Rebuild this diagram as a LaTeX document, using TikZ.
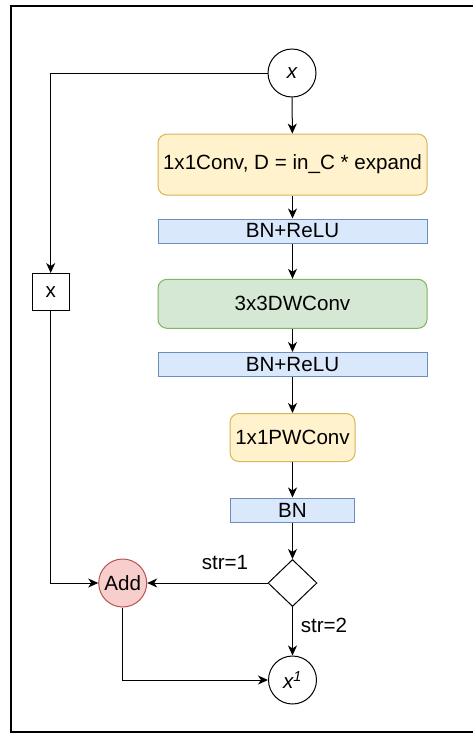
\documentclass[tikz,border=0pt]{standalone}
\usepackage{fontspec}
\setmainfont{Liberation Sans}
\usetikzlibrary{arrows.meta,shapes.geometric}
\definecolor{ylwfill}{HTML}{FFF2CC}\definecolor{ylwline}{HTML}{D6B656}
\definecolor{blufill}{HTML}{DAE8FC}\definecolor{bluline}{HTML}{6C8EBF}
\definecolor{grnfill}{HTML}{D5E8D4}\definecolor{grnline}{HTML}{82B366}
\definecolor{redfill}{HTML}{F8CECC}\definecolor{redline}{HTML}{B85450}
\begin{document}
\begin{tikzpicture}[x=1pt,y=-1pt,
  every node/.style={font=\fontsize{20.6}{24}\selectfont, inner sep=0pt},
  conv/.style={draw=ylwline, fill=ylwfill, rounded corners=9pt, line width=1pt},
  dwconv/.style={draw=grnline, fill=grnfill, rounded corners=9pt, line width=1pt},
  norm/.style={draw=bluline, fill=blufill, line width=1pt},
  term/.style={circle, draw, line width=1pt, minimum size=48pt},
  flow/.style={line width=1pt, -{Stealth[length=10pt,width=9pt,inset=3pt]}},
  plain/.style={line width=1pt}]
\useasboundingbox (0,0) rectangle (473,734);
% outer frame
\draw[line width=2pt] (11,6) rectangle (478,732);

% main column
\node[term] (xin) at (292,73) {\itshape x};
\node[conv, minimum width=269pt, minimum height=61pt] (c1) at (292.5,164.6) {1x1Conv, D = in\_C * expand};
\node[norm, minimum width=269pt, minimum height=24pt] (bn1) at (292.5,231) {BN+ReLU};
\node[dwconv, minimum width=269pt, minimum height=49pt] (dw) at (292.5,303.8) {3x3DWConv};
\node[norm, minimum width=269pt, minimum height=24pt] (bn2) at (292.5,364.5) {BN+ReLU};
\node[conv, minimum width=125pt, minimum height=48pt] (pw) at (292.5,437.5) {1x1PWConv};
\node[norm, minimum width=124pt, minimum height=24pt] (bn3) at (292.5,510) {BN};
\node[diamond, draw, line width=1pt, minimum width=49pt, minimum height=47pt] (dec) at (292.5,583) {};
\node[term] (xout) at (292.5,680) {\itshape x\textsuperscript{1}};

% shortcut branch
\node[draw, line width=1pt, minimum width=37pt, minimum height=37pt] (xbox) at (50.7,292) {x};
\node[term, draw=redline, fill=redfill] (add) at (122.7,583) {Add};

% labels
\node (l1) at (225,563) {str=1};
\node (l2) at (324,625) {str=2};

% connectors
\draw[flow] (xin) -- (c1);
\draw[flow] (c1) -- (bn1);
\draw[flow] (bn1) -- (dw);
\draw[flow] (dw) -- (bn2);
\draw[flow] (bn2) -- (pw);
\draw[flow] (pw) -- (bn3);
\draw[flow] (bn3) -- (dec);
\draw[flow] (dec) -- (add);
\draw[flow] (dec) -- (xout);
\draw[flow] (xin.west) -| (xbox.north);
\draw[flow] (xbox.south) |- (add.west);
\draw[flow] (add.south) |- (xout.west);
\end{tikzpicture}
\end{document}
